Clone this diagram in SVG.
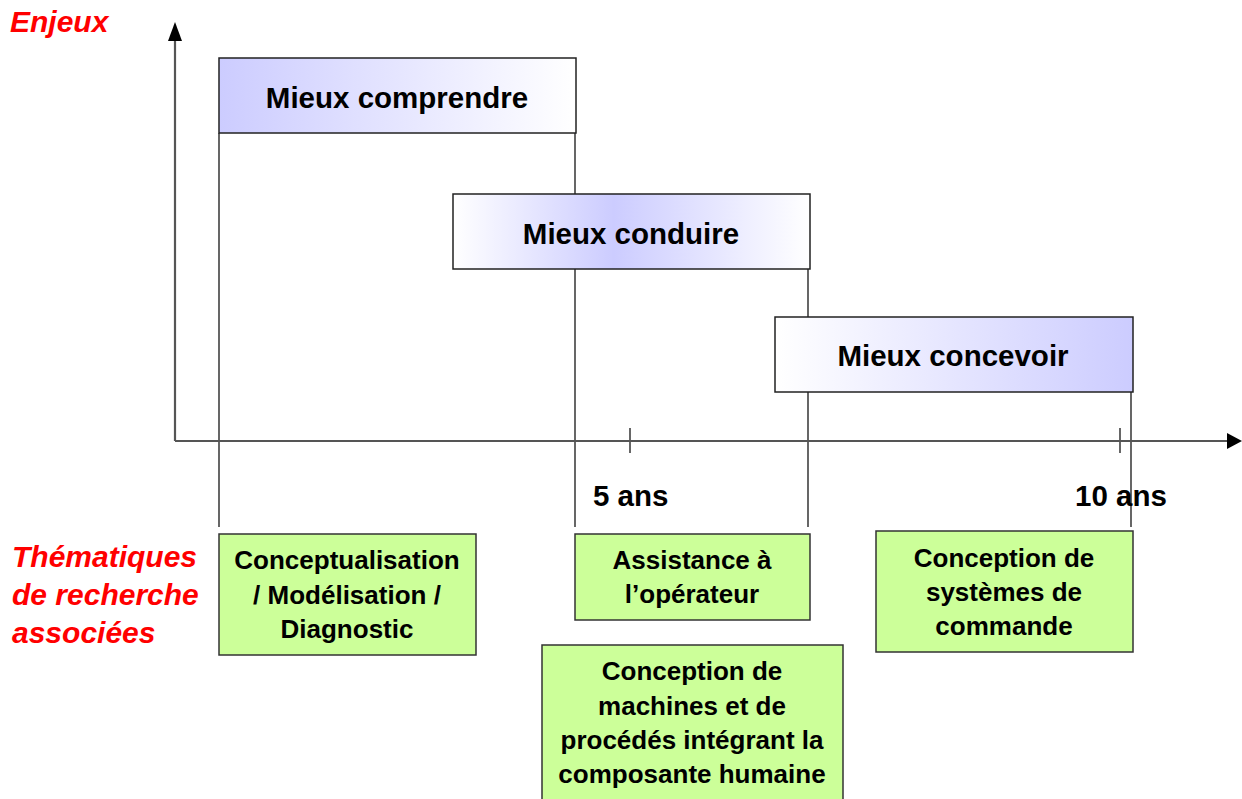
<svg xmlns="http://www.w3.org/2000/svg" width="1242" height="799" viewBox="0 0 1242 799">
<style>
.red{font-family:"Liberation Sans",Arial,sans-serif;font-weight:bold;font-style:italic;font-size:30px;fill:#ff0000}
.title{font-family:"Liberation Sans",Arial,sans-serif;font-weight:bold;font-size:29.5px;fill:#000;text-anchor:middle}
.lbl{font-family:"Liberation Sans",Arial,sans-serif;font-weight:bold;font-size:26px;fill:#000;text-anchor:middle}
.ans{font-family:"Liberation Sans",Arial,sans-serif;font-weight:bold;font-size:29.5px;fill:#000}
.box{stroke:#222;stroke-width:1.5}
.green{fill:#ccff99;stroke:#333;stroke-width:1.5}
.vl{stroke:#000;stroke-width:1.2;fill:none}
.axis{stroke:#555;stroke-width:2.2;fill:none}
</style>
<defs>
<linearGradient id="gL" x1="0" y1="0" x2="1" y2="0"><stop offset="0" stop-color="#ccccff"/><stop offset="1" stop-color="#ffffff"/></linearGradient>
<linearGradient id="gC" x1="0" y1="0" x2="1" y2="0"><stop offset="0" stop-color="#ffffff"/><stop offset="0.45" stop-color="#ccccff"/><stop offset="1" stop-color="#ffffff"/></linearGradient>
<linearGradient id="gR" x1="0" y1="0" x2="1" y2="0"><stop offset="0" stop-color="#ffffff"/><stop offset="1" stop-color="#ccccff"/></linearGradient>
</defs>
<rect width="1242" height="799" fill="#fff"/>
<g id="connectors">
<line class="vl" x1="219" y1="133" x2="219" y2="527"/>
<line class="vl" x1="575" y1="133" x2="575" y2="527"/>
<line class="vl" x1="808" y1="269" x2="808" y2="527"/>
<line class="vl" x1="1131" y1="392" x2="1131" y2="527"/>
<line class="vl" x1="630" y1="428" x2="630" y2="453"/>
<line class="vl" x1="1120" y1="428" x2="1120" y2="453"/>
</g>
<g id="axes">
<line class="axis" x1="175" y1="441" x2="175" y2="40"/>
<polygon points="175,22 168,41 182,41" fill="#000"/>
<line class="axis" x1="175" y1="441" x2="1228" y2="441"/>
<polygon points="1242,441 1227,433 1227,449" fill="#000"/>
</g>
<text class="red" x="10" y="32">Enjeux</text>
<g id="b1"><rect class="box" x="219" y="58" width="357" height="75" fill="url(#gL)"/><text class="title" x="397" y="108">Mieux comprendre</text></g>
<g id="b2"><rect class="box" x="453" y="194" width="357" height="75" fill="url(#gC)"/><text class="title" x="631" y="244">Mieux conduire</text></g>
<g id="b3"><rect class="box" x="775" y="317" width="358" height="75" fill="url(#gR)"/><text class="title" x="953" y="366">Mieux concevoir</text></g>
<text class="ans" x="593" y="506">5 ans</text>
<text class="ans" x="1075" y="506">10 ans</text>
<g id="side"><text class="red" x="12" y="567">Thématiques</text><text class="red" x="12" y="605">de recherche</text><text class="red" x="12" y="643">associées</text></g>
<g id="t1"><rect class="green" x="219" y="534" width="257" height="121"/>
<text class="lbl" x="347" y="569">Conceptualisation</text><text class="lbl" x="347" y="604">/ Modélisation /</text><text class="lbl" x="347" y="638">Diagnostic</text></g>
<g id="t2"><rect class="green" x="575" y="534" width="235" height="86"/>
<text class="lbl" x="692" y="569">Assistance à</text><text class="lbl" x="692" y="603">l’opérateur</text></g>
<g id="t3"><rect class="green" x="542" y="645" width="301" height="170"/>
<text class="lbl" x="692" y="680">Conception de</text><text class="lbl" x="692" y="715">machines et de</text><text class="lbl" x="692" y="749">procédés intégrant la</text><text class="lbl" x="692" y="783">composante humaine</text></g>
<g id="t4"><rect class="green" x="876" y="531" width="257" height="121"/>
<text class="lbl" x="1004" y="567">Conception de</text><text class="lbl" x="1004" y="601">systèmes de</text><text class="lbl" x="1004" y="635">commande</text></g>
</svg>
